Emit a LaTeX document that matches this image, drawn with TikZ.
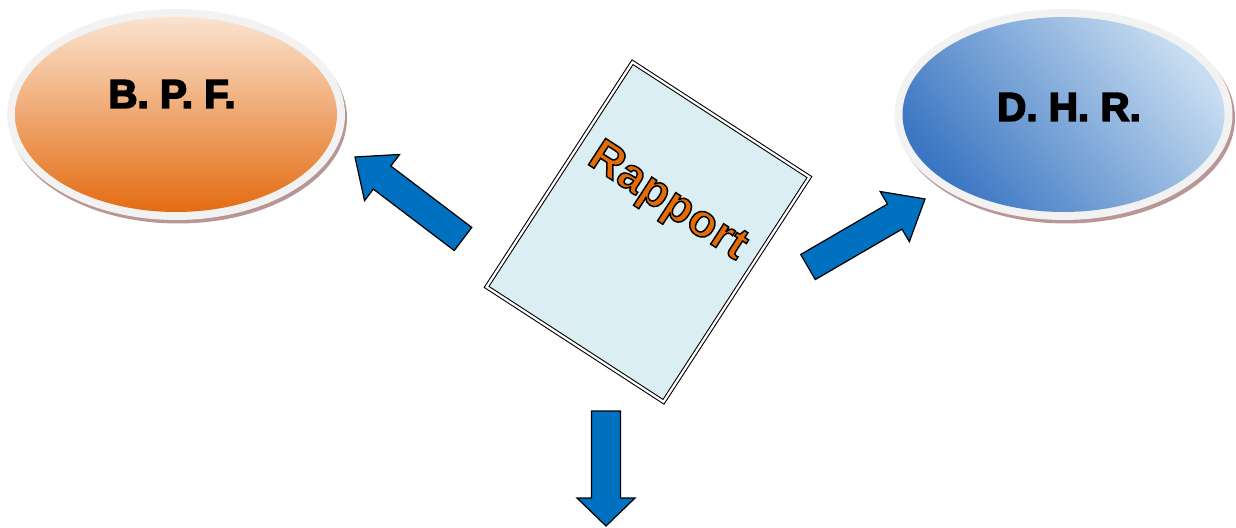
\documentclass[tikz,border=0pt]{standalone}
\usepackage{fontspec}
\setmainfont{Liberation Sans}
\newfontfamily\heavyfont[FakeBold=4]{Liberation Sans Bold}
\newfontfamily\outlinefont[FakeBold=3.2,LetterSpace=1.5]{Liberation Sans Bold}
\usetikzlibrary{shapes.geometric,calc}
\definecolor{rimgray}{RGB}{242,242,242}
\definecolor{rimshadow}{RGB}{185,150,150}
\definecolor{peachtop}{RGB}{250,227,207}
\definecolor{orangebottom}{RGB}{228,108,18}
\definecolor{bluedark}{RGB}{58,118,194}
\definecolor{bluelight}{RGB}{200,221,241}
\definecolor{paperblue}{RGB}{218,238,243}
\definecolor{reportorange}{RGB}{227,108,9}
\definecolor{flowblue}{RGB}{0,112,192}

% block arrow from tail #1 to tip #2, head length #3
\newcommand{\flowarrow}[3]{%
  \coordinate (hb) at ($(#2)!#3!(#1)$);
  \draw[flow] ($(#1)!0.29cm!90:(#2)$) -- ($(hb)!0.29cm!-90:(#1)$)
    -- ($(hb)!0.58cm!-90:(#1)$) -- (#2) -- ($(hb)!0.58cm!90:(#1)$)
    -- ($(hb)!0.29cm!90:(#1)$) -- ($(#1)!0.29cm!-90:(#2)$) -- cycle;}

\begin{document}
\begin{tikzpicture}[
  x=0.02cm,y=-0.02cm,
  rimshade/.style={ellipse,fill=rimshadow,minimum width=6.76cm,minimum height=4.22cm,inner sep=0pt},
  rim/.style={ellipse,fill=rimgray,minimum width=6.76cm,minimum height=4.22cm,inner sep=0pt},
  bubble/.style={ellipse,minimum width=6.44cm,minimum height=3.9cm,inner sep=0pt},
  acronym/.style={font=\heavyfont\fontsize{23}{27}\selectfont,inner sep=0pt},
  paper/.style={rectangle,draw,line width=0.6pt,double=white,double distance=0.045cm,
    fill=paperblue,rotate=-33,minimum width=4.22cm,minimum height=5.36cm,inner sep=0pt},
  title/.style={font=\outlinefont\fontsize{26}{30}\selectfont,rotate=-33,inner sep=0pt},
  flow/.style={draw=black,line width=0.7pt,fill=flowblue,line join=miter}
]
  \useasboundingbox (0,0) rectangle (1236,527);

  % left bubble
  \node[rimshade] (bpfshade) at (178,118) {};
  \node[rim] (bpfrim) at (176,114.5) {};
  \node[bubble,top color=peachtop,bottom color=orangebottom] (bpf) at (bpfrim.center) {};
  \node[acronym] (bpftext) at (172,94) {B. P. F.};

  % right bubble
  \node[rimshade] (dhrshade) at (1066,118) {};
  \node[rim] (dhrrim) at (1063.5,114.5) {};
  \node[bubble,top color=bluelight,bottom color=bluedark,shading angle=-50] (dhr) at (dhrrim.center) {};
  \node[acronym] (dhrtext) at (1069,107) {D. H. R.};

  % report sheet
  \node[paper] (doc) at (648,232) {};
  \node[title] (rapport) at ($(doc.center)!0.26!(doc.north)$)
    {\color{reportorange}\special{pdf:code 0 0 0 RG}Rapport};

  % arrows
  \coordinate (lefttail) at (463,239);
  \coordinate (lefttip) at (355,157);
  \coordinate (righttail) at (808,267);
  \coordinate (righttip) at (925,199);
  \coordinate (downtail) at (606,411);
  \coordinate (downtip) at (606,526);
  \flowarrow{lefttail}{lefttip}{0.68cm}
  \flowarrow{righttail}{righttip}{0.7cm}
  \flowarrow{downtail}{downtip}{0.56cm}
\end{tikzpicture}
\end{document}
